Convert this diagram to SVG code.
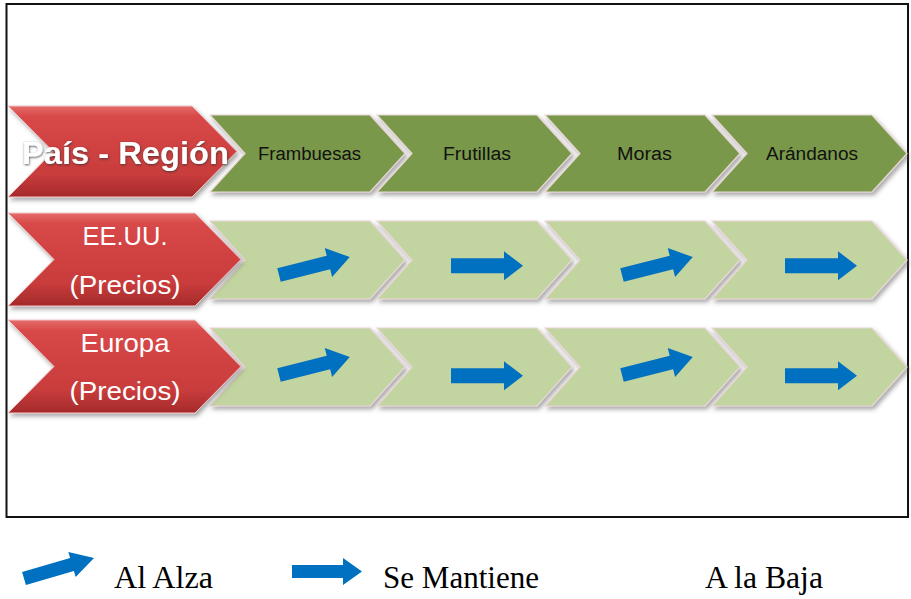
<svg xmlns="http://www.w3.org/2000/svg" width="911" height="599" viewBox="0 0 911 599">
  <defs>
    <linearGradient id="redGrad" x1="0" y1="0" x2="0" y2="1">
      <stop offset="0" stop-color="#e56b6b"/>
      <stop offset="0.12" stop-color="#d84848"/>
      <stop offset="0.75" stop-color="#c93c3c"/>
      <stop offset="1" stop-color="#a52a2a"/>
    </linearGradient>
    <filter id="shadow" x="-10%" y="-10%" width="125%" height="135%">
      <feDropShadow dx="2" dy="3" stdDeviation="2.2" flood-color="#555" flood-opacity="0.5"/>
    </filter>
    <filter id="textGlow" x="-10%" y="-30%" width="120%" height="160%">
      <feDropShadow dx="0.5" dy="1" stdDeviation="1" flood-color="#333" flood-opacity="0.8"/>
    </filter>
    <path id="upArrow" d="M0,-7 L51,-7 L51,-15 L73,0 L51,15 L51,7 L0,7 Z"/>
    <path id="flatArrow" d="M0,-7.5 L53,-7.5 L53,-14.5 L72,0 L53,14.5 L53,7.5 L0,7.5 Z"/>
  </defs>
  <style>
    .frame { fill: #ffffff; stroke: #111; stroke-width: 2; }
    .red { fill: url(#redGrad); stroke: #f0c8c8; stroke-width: 1; filter: url(#shadow); }
    .dark { fill: #799848; stroke: #ead6d6; stroke-width: 1.2; filter: url(#shadow); }
    .light { fill: #c2d4a0; stroke: #ead6d6; stroke-width: 1.2; filter: url(#shadow); }
    .arrow { fill: #0070c0; }
    .head { font-family: "Liberation Sans", Arial, sans-serif; font-size: 18px; fill: #111; text-anchor: middle; }
    .redtxt { font-family: "Liberation Sans", Arial, sans-serif; font-size: 26px; fill: #fff; text-anchor: middle; }
    .title { font-family: "Liberation Sans", Arial, sans-serif; font-size: 31px; font-weight: bold; fill: #fff; filter: url(#textGlow); }
    .legend { font-family: "Liberation Serif", "Times New Roman", serif; font-size: 31px; fill: #000; }
  </style>

  <rect class="frame" x="6.5" y="4" width="901.5" height="513"/>

  <!-- Header row -->
  <g id="fruit-frambuesas">
    <path class="dark" d="M210,115 L370,115 L405,153.5 L370,192 L210,192 L245,153.5 Z"/>
    <text class="head" x="309.5" y="159.5" textLength="103" lengthAdjust="spacingAndGlyphs">Frambuesas</text>
  </g>
  <g id="fruit-frutillas">
    <path class="dark" d="M377,115 L537,115 L572,153.5 L537,192 L377,192 L412,153.5 Z"/>
    <text class="head" x="477" y="159.5" textLength="68" lengthAdjust="spacingAndGlyphs">Frutillas</text>
  </g>
  <g id="fruit-moras">
    <path class="dark" d="M545,115 L705,115 L740,153.5 L705,192 L545,192 L580,153.5 Z"/>
    <text class="head" x="644.5" y="159.5" textLength="55" lengthAdjust="spacingAndGlyphs">Moras</text>
  </g>
  <g id="fruit-arandanos">
    <path class="dark" d="M712,115 L872,115 L907,153.5 L872,192 L712,192 L747,153.5 Z"/>
    <text class="head" x="812" y="159.5" textLength="92" lengthAdjust="spacingAndGlyphs">Arándanos</text>
  </g>
  <g id="pais-region">
    <path class="red" d="M8,106 L192,106 L237,151.5 L192,197 L8,197 L53,151.5 Z"/>
    <text class="title" x="22" y="164" textLength="207" lengthAdjust="spacingAndGlyphs">País - Región</text>
  </g>

  <!-- Row EE.UU. -->
  <g id="eeuu-frambuesas"><path class="light" d="M210,221 L370,221 L405,260 L370,299 L210,299 L245,260 Z"/></g>
  <g id="eeuu-frutillas"><path class="light" d="M377,221 L537,221 L572,260 L537,299 L377,299 L412,260 Z"/></g>
  <g id="eeuu-moras"><path class="light" d="M545,221 L705,221 L740,260 L705,299 L545,299 L580,260 Z"/></g>
  <g id="eeuu-arandanos"><path class="light" d="M712,221 L872,221 L907,260 L872,299 L712,299 L747,260 Z"/></g>
  <g id="eeuu">
    <path class="red" d="M8,213 L195,213 L241,259.5 L195,306 L8,306 L54,259.5 Z"/>
    <text class="redtxt" x="125" y="245" textLength="85" lengthAdjust="spacingAndGlyphs">EE.UU.</text>
    <text class="redtxt" x="125" y="294" textLength="111" lengthAdjust="spacingAndGlyphs">(Precios)</text>
  </g>

  <!-- Row Europa -->
  <g id="europa-frambuesas"><path class="light" d="M210,328 L370,328 L405,367 L370,406 L210,406 L245,367 Z"/></g>
  <g id="europa-frutillas"><path class="light" d="M377,328 L537,328 L572,367 L537,406 L377,406 L412,367 Z"/></g>
  <g id="europa-moras"><path class="light" d="M545,328 L705,328 L740,367 L705,406 L545,406 L580,367 Z"/></g>
  <g id="europa-arandanos"><path class="light" d="M712,328 L872,328 L907,367 L872,406 L712,406 L747,367 Z"/></g>
  <g id="europa">
    <path class="red" d="M8,320 L195,320 L241,366.5 L195,413 L8,413 L54,366.5 Z"/>
    <text class="redtxt" x="125" y="352" textLength="89" lengthAdjust="spacingAndGlyphs">Europa</text>
    <text class="redtxt" x="125" y="400" textLength="111" lengthAdjust="spacingAndGlyphs">(Precios)</text>
  </g>

  <!-- Trend indicators -->
  <g id="indicators" class="arrow">
    <use href="#upArrow" transform="translate(279,275) rotate(-14.2)"/>
    <use href="#flatArrow" transform="translate(451,265.8)"/>
    <use href="#upArrow" transform="translate(622,275) rotate(-14.2)"/>
    <use href="#flatArrow" transform="translate(785,265.8)"/>
    <use href="#upArrow" transform="translate(279,375) rotate(-14.2)"/>
    <use href="#flatArrow" transform="translate(451,375.8)"/>
    <use href="#upArrow" transform="translate(622,375) rotate(-14.2)"/>
    <use href="#flatArrow" transform="translate(785,375.8)"/>
  </g>

  <!-- Legend -->
  <g id="legend">
    <g id="legend-alza">
      <path class="arrow" d="M0,-6.8 L50,-6.8 L50,-13 L73,0 L50,13 L50,6.8 L0,6.8 Z" transform="translate(24,578.5) rotate(-16.3)"/>
      <text class="legend" x="114" y="588" textLength="99" lengthAdjust="spacingAndGlyphs">Al Alza</text>
    </g>
    <g id="legend-mantiene">
      <path class="arrow" d="M292,565 L343,565 L343,558 L362,571.5 L343,585 L343,578 L292,578 Z"/>
      <text class="legend" x="383" y="588" textLength="156" lengthAdjust="spacingAndGlyphs">Se Mantiene</text>
    </g>
    <g id="legend-baja">
      <text class="legend" x="705" y="588" textLength="118" lengthAdjust="spacingAndGlyphs">A la Baja</text>
    </g>
  </g>
</svg>
